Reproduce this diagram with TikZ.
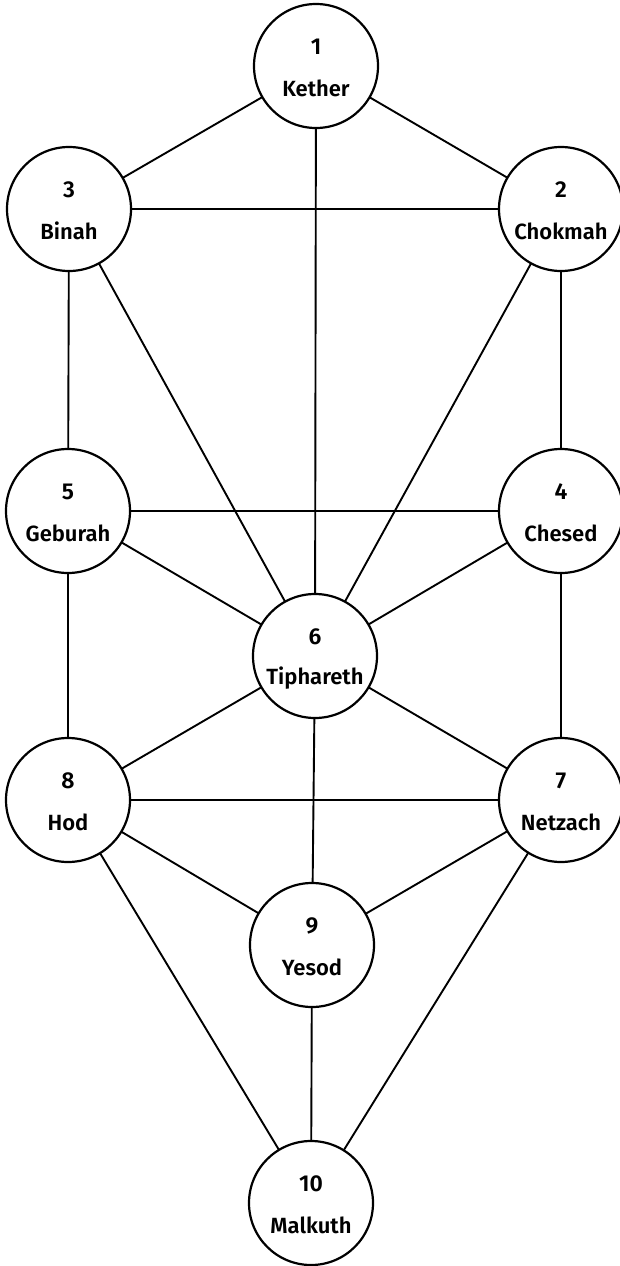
\documentclass[tikz,border=0pt]{standalone}
\usepackage{fontspec}
\newfontfamily\labfont{Fira Sans SemiBold}
\begin{document}
\begin{tikzpicture}[x=1pt,y=-1pt,
  sefira/.style={circle,draw=black,line width=2.2pt,fill=white,minimum size=124pt,inner sep=0pt},
  path/.style={draw=black,line width=1.9pt},
  numtxt/.style={font=\labfont\fontsize{23}{26}\selectfont,inner sep=0pt,anchor=center},
  nametxt/.style={font=\labfont\fontsize{22}{26}\selectfont,inner sep=0pt,anchor=center}]
\useasboundingbox (0,0) rectangle (620,1266);
% sefirot positions
\coordinate (p1) at (316,66);
\coordinate (p3) at (69,209);
\coordinate (p2) at (561,209);
\coordinate (p5) at (68,511);
\coordinate (p4) at (561,511);
\coordinate (p6) at (315,656);
\coordinate (p8) at (68,800);
\coordinate (p7) at (561,800);
\coordinate (p9) at (312,945);
\coordinate (p10) at (311,1203);
% paths
\foreach \a/\b in {1/2,1/3,1/6,2/3,3/5,3/6,2/4,2/6,5/4,5/6,4/6,5/8,4/7,6/8,6/7,6/9,8/7,8/9,7/9,8/10,7/10,9/10}
  \draw[path] (p\a) -- (p\b);
% circles
\foreach \i/\n in {1/Kether,2/Chokmah,3/Binah,4/Chesed,5/Geburah,6/Tiphareth,7/Netzach,8/Hod,9/Yesod,10/Malkuth}{
  \node[sefira] (s\i) at (p\i) {};
  \node[numtxt] (n\i) at ([yshift=19pt]s\i.center) {\i};
  \node[nametxt] (t\i) at ([yshift=-22pt]s\i.center) {\n};
}
\end{tikzpicture}
\end{document}
